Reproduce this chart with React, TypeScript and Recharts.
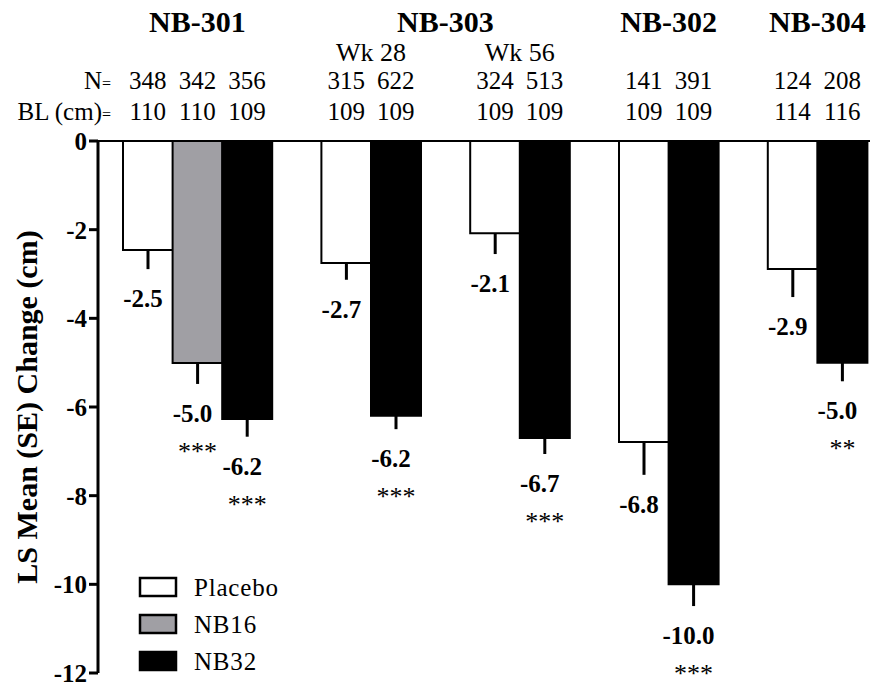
import React from 'react';
import { BarChart, Bar, XAxis, YAxis, Cell, ErrorBar, LabelList, Legend } from 'recharts';

const FONT = "'Liberation Serif', 'Times New Roman', Times, serif";

// one slot per bar; "gap" slots separate the studies
const barKeys = ['301-PBO', '301-NB16', '301-NB32', 'gap-1', '303w28-PBO', '303w28-NB32', 'gap-2', '303w56-PBO', '303w56-NB32', 'gap-3', '302-PBO', '302-NB32', 'gap-4', '304-PBO', '304-NB32'];
const treatments = ['Placebo', 'NB16', 'NB32', '', 'Placebo', 'NB32', '', 'Placebo', 'NB32', '', 'Placebo', 'NB32', '', 'Placebo', 'NB32'];
const lsMeanChange = [-2.46, -5.01, -6.27, null, -2.75, -6.2, null, -2.08, -6.7, null, -6.79, -10.0, null, -2.89, -5.0];
const standardError = [0.43, 0.47, 0.4, null, 0.38, 0.3, null, 0.47, 0.36, null, 0.74, 0.49, null, 0.63, 0.42];
const valueLabels = ['-2.5', '-5.0', '-6.2', '', '-2.7', '-6.2', '', '-2.1', '-6.7', '', '-6.8', '-10.0', '', '-2.9', '-5.0'];
const significance = ['', '***', '***', '', '', '***', '', '', '***', '', '', '***', '', '', '**'];
const nCounts = ['348', '342', '356', '', '315', '622', '', '324', '513', '', '141', '391', '', '124', '208'];
const baselineCm = ['110', '110', '109', '', '109', '109', '', '109', '109', '', '109', '109', '', '114', '116'];

const studyNames = ['NB-301', 'NB-303', 'NB-302', 'NB-304'];
const studyFirstBar = [0, 4, 10, 13];
const studyLastBar = [2, 8, 11, 14];
const timepointNames = ['Wk 28', 'Wk 56'];
const timepointFirstBar = [4, 7];
const timepointLastBar = [5, 8];

const legendNames = ['Placebo', 'NB16', 'NB32'];
const yTicks = [0, -2, -4, -6, -8, -10, -12];

const fillOf = (t: string) => (t === 'NB32' ? '#000000' : t === 'NB16' ? '#a09fa4' : '#ffffff');

const chartData = barKeys.map((key, i) => ({
  key,
  change: lsMeanChange[i],
  se: standardError[i],
}));

const TopTick = (props: any) => {
  const { x, payload } = props;
  const i = barKeys.indexOf(payload?.value);
  if (i < 0) return null;
  const half = typeof payload?.offset === 'number' && payload.offset > 0 ? payload.offset : 24.8;
  const s = studyFirstBar.indexOf(i);
  const t = timepointFirstBar.indexOf(i);
  return (
    <g>
      {i === 0 && (
        <g fontFamily={FONT} fill="#000">
          <text x={111} y={89} textAnchor="end" fontSize={25}>
            N<tspan fontSize={16}>=</tspan>
          </text>
          <text x={111} y={120} textAnchor="end" fontSize={25}>
            BL (cm)<tspan fontSize={16}>=</tspan>
          </text>
        </g>
      )}
      {s >= 0 && (
        <text x={x + (studyLastBar[s] - studyFirstBar[s]) * half} y={32} textAnchor="middle" fontFamily={FONT} fontSize={30} fontWeight="bold" fill="#000">
          {studyNames[s]}
        </text>
      )}
      {t >= 0 && (
        <text x={x + (timepointLastBar[t] - timepointFirstBar[t]) * half} y={61} textAnchor="middle" fontFamily={FONT} fontSize={26} fill="#000">
          {timepointNames[t]}
        </text>
      )}
      {nCounts[i] && (
        <text x={x} y={89} textAnchor="middle" fontFamily={FONT} fontSize={25} fill="#000">
          {nCounts[i]}
        </text>
      )}
      {baselineCm[i] && (
        <text x={x} y={120} textAnchor="middle" fontFamily={FONT} fontSize={25} fill="#000">
          {baselineCm[i]}
        </text>
      )}
    </g>
  );
};

const ValueLabel = (props: any) => {
  const { x, y, width, height, value } = props;
  const i = barKeys.indexOf(value);
  if (i < 0 || lsMeanChange[i] == null) return null;
  const v = lsMeanChange[i] as number;
  const bottom = Math.max(y, y + height);
  const pxPerUnit = Math.abs(height) / Math.abs(v);
  const errEnd = bottom + (standardError[i] as number) * pxPerUnit;
  const cx = x + width / 2;
  return (
    <g>
      <text x={cx - 5} y={errEnd + 38} textAnchor="middle" fontFamily={FONT} fontSize={25} fontWeight="bold" fill="#000">
        {valueLabels[i]}
      </text>
      {significance[i] && (
        <text x={cx} y={errEnd + 76} textAnchor="middle" fontFamily={FONT} fontSize={26} fill="#000">
          {significance[i]}
        </text>
      )}
    </g>
  );
};

const YTitle = (props: any) => {
  const vb = props.viewBox || { y: 141, height: 532 };
  const cy = vb.y + vb.height / 2;
  const cx = 37;
  return (
    <text x={cx} y={cy} transform={`rotate(-90, ${cx}, ${cy})`} textAnchor="middle" fontFamily={FONT} fontSize={30} fontWeight="bold" fill="#000">
      LS Mean (SE) Change (cm)
    </text>
  );
};

const LegendBox = () => (
  <svg width={200} height={115} style={{ display: 'block' }}>
    {legendNames.map((name, i) => (
      <g key={name}>
        <rect x={11} y={9 + 37 * i} width={36} height={18} fill={fillOf(name)} stroke="#000" strokeWidth={2.5} />
        <text x={65} y={27 + 37 * i} fontFamily={FONT} fontSize={25} fill="#000" letterSpacing={0.8}>
          {name}
        </text>
      </g>
    ))}
  </svg>
);

export default function App() {
  return (
    <div style={{ width: 882, height: 687, background: '#fff' }}>
      <style>{'body{margin:0;background:#fff}'}</style>
      <BarChart
        width={882}
        height={687}
        data={chartData}
        margin={{ top: 0, right: 12, bottom: 14, left: 0 }}
        barCategoryGap={0}
        barGap={0}
      >
        <XAxis
          dataKey="key"
          orientation="top"
          height={141}
          interval={0}
          padding={{ left: 25, right: 3 }}
          axisLine={{ stroke: '#000', strokeWidth: 2 }}
          tickLine={false}
          tick={(p: any) => <TopTick {...p} />}
        />
        <YAxis
          type="number"
          domain={[-12, 0]}
          ticks={yTicks}
          interval={0}
          width={98}
          allowDataOverflow
          axisLine={{ stroke: '#000', strokeWidth: 3 }}
          tickLine={{ stroke: '#000', strokeWidth: 3 }}
          tickSize={9}
          tickMargin={2}
          tick={{ fill: '#000', fontSize: 25, fontWeight: 'bold', fontFamily: FONT }}
          label={<YTitle />}
        />
        <Legend
          layout="vertical"
          align="center"
          verticalAlign="middle"
          content={() => <LegendBox />}
          wrapperStyle={{ left: 129, top: 569, width: 200, height: 115 }}
        />
        <Bar dataKey="change" isAnimationActive={false} stroke="#000" strokeWidth={2}>
          {chartData.map((d, i) => (
            <Cell key={d.key} fill={fillOf(treatments[i])} stroke="#000" strokeWidth={2} />
          ))}
          <ErrorBar
            dataKey={(d: any) => (d.se == null ? null : [d.se, 0])}
            direction="y"
            width={0}
            stroke="#000"
            strokeWidth={3}
            isAnimationActive={false}
          />
          <LabelList dataKey="key" content={(p: any) => <ValueLabel {...p} />} />
        </Bar>
      </BarChart>
    </div>
  );
}
